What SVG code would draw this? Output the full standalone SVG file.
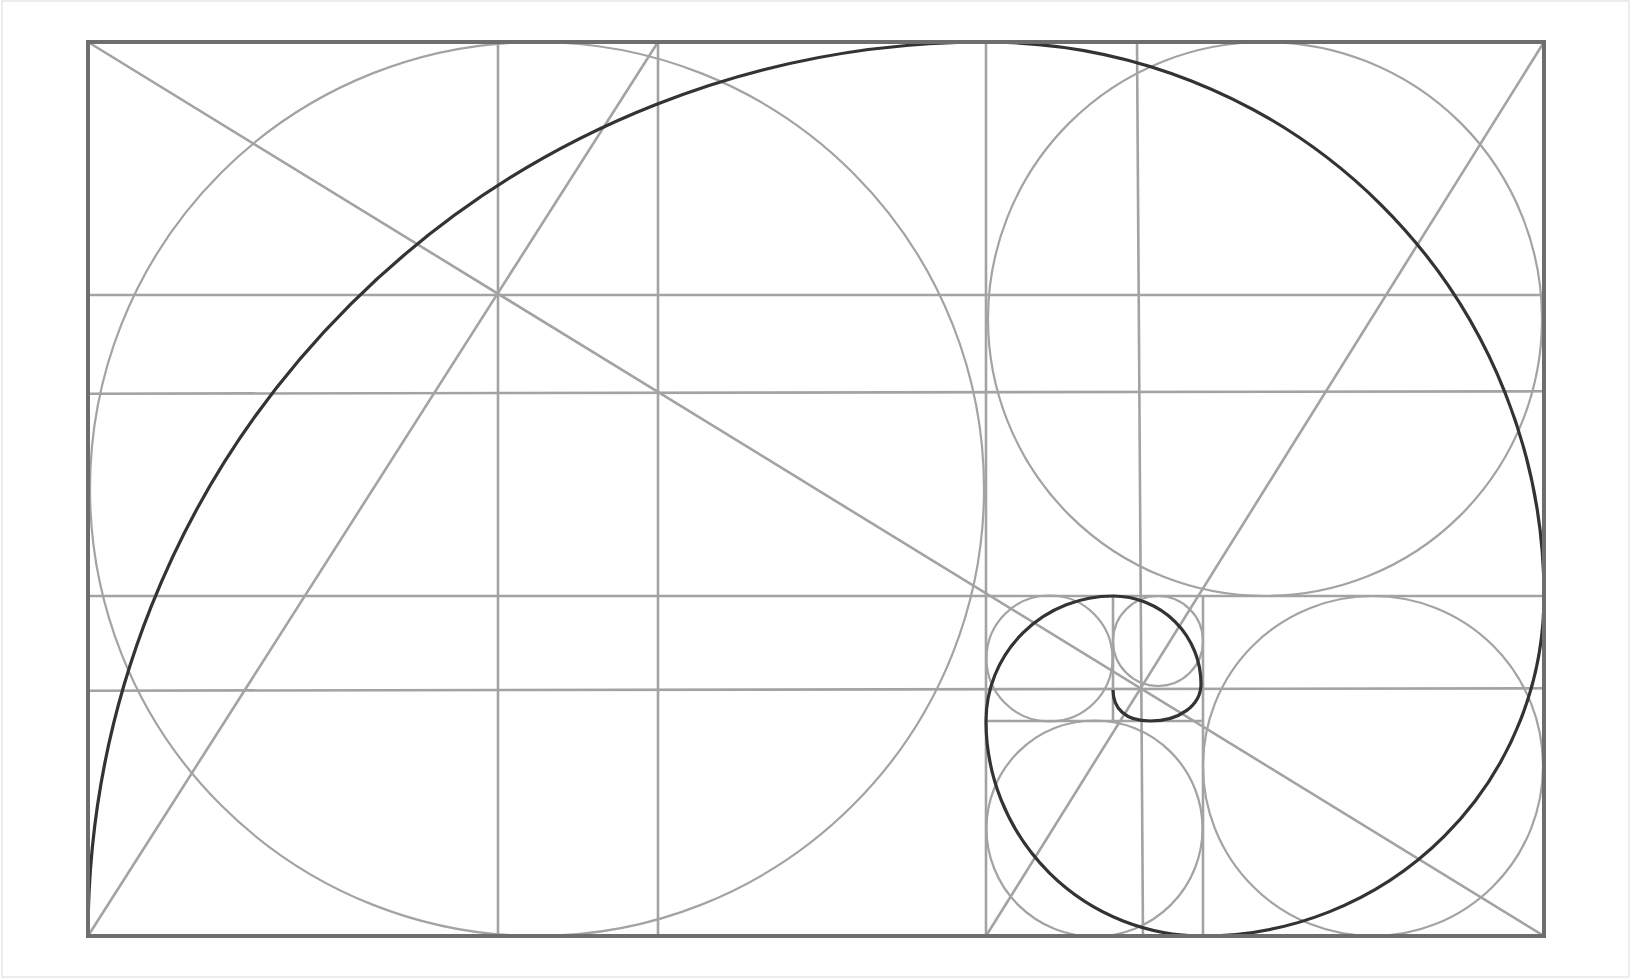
<svg xmlns="http://www.w3.org/2000/svg" width="1633" height="980" viewBox="0 0 1633 980">
<style>
.g{stroke:#a3a3a3;stroke-width:2.6;fill:none}
.c{stroke:#a3a3a3;stroke-width:2.2;fill:none}
.b{stroke:#6e6e6e;stroke-width:4;fill:none}
.s{stroke:#333;stroke-width:3.2;fill:none}
</style>
<rect x="0" y="0" width="1633" height="980" fill="#fff"/>
<rect x="2" y="1" width="1627" height="976" fill="none" stroke="#e8e8e8" stroke-width="1.5"/>
<g id="circles">
<circle class="c" cx="537" cy="489" r="447"/>
<circle class="c" cx="1265" cy="319" r="277"/>
<circle class="c" cx="1373" cy="766" r="170"/>
<circle class="c" cx="1094.5" cy="828.5" r="108"/>
<circle class="c" cx="1049.5" cy="658.5" r="63"/>
<circle class="c" cx="1158" cy="641" r="45"/>
</g>
<g id="grid">
<line class="g" x1="498" y1="42" x2="498" y2="936"/>
<line class="g" x1="658" y1="42" x2="658" y2="936"/>
<line class="g" x1="986" y1="42" x2="986" y2="936"/>
<line class="g" x1="1137" y1="42" x2="1143" y2="936"/>
<line class="g" x1="1203" y1="596" x2="1203" y2="936"/>
<line class="g" x1="1113" y1="596" x2="1113" y2="721"/>
<line class="g" x1="88" y1="295" x2="1544" y2="295"/>
<line class="g" x1="88" y1="393.7" x2="1544" y2="391.3"/>
<line class="g" x1="88" y1="596" x2="1544" y2="596"/>
<line class="g" x1="88" y1="690.7" x2="1544" y2="688.3"/>
<line class="g" x1="986" y1="721" x2="1203" y2="721"/>
<line class="g" x1="88" y1="42" x2="1544" y2="936"/>
<line class="g" x1="88" y1="936" x2="658" y2="42"/>
<line class="g" x1="986" y1="936" x2="1544" y2="42"/>
</g>
<g id="spiral">
<path class="s" d="M 88 936 A 898 894 0 0 1 986 42 A 558 554 0 0 1 1544 596 A 341 340 0 0 1 1203 936 A 217 215 0 0 1 986 721 A 127 125 0 0 1 1113 596 A 88 88 0 0 1 1201 684 C 1201 705 1180 721 1150 721 C 1125 721 1113 708 1113 690"/>
</g>
<g id="frame">
<rect class="b" x="88" y="42" width="1456" height="894"/>
</g>
</svg>
